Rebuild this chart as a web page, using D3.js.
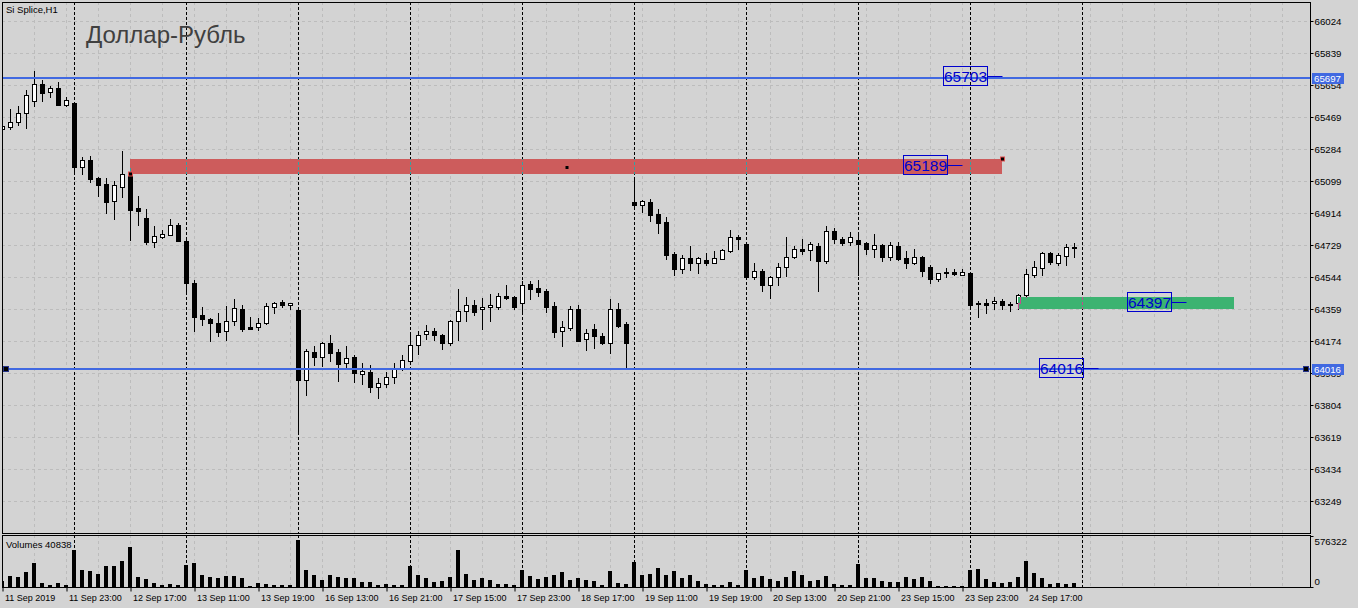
<!DOCTYPE html>
<html><head><meta charset="utf-8">
<script src="https://cdn.jsdelivr.net/npm/d3@7"></script>
<style>
html,body{margin:0;padding:0;background:#d3d3d3;}
svg{display:block;font-family:"Liberation Sans",Arial,sans-serif;}
</style>
</head><body>
<svg id="chart" width="1358" height="608"></svg>
<script>
// ---------- DATA ----------
const open  = [65400,65412,65439,65489,65562,65658,65611,65635,65539,65550,65181,65220,65116,65081,64981,65066,65143,64942,64885,64746,64777,64788,64846,64754,64508,64323,64300,64277,64234,64288,64357,64257,64257,64277,64373,64400,64381,64354,63949,64111,64084,64161,64111,64046,64080,63984,63995,63907,63926,63965,64011,64061,64150,64215,64230,64207,64161,64288,64349,64381,64358,64369,64373,64434,64427,64392,64504,64480,64461,64377,64230,64250,64357,64184,64242,64203,64165,64357,64273,64977,64962,64977,64908,64862,64677,64592,64654,64623,64642,64627,64650,64696,64773,64735,64546,64580,64500,64542,64603,64661,64707,64700,64723,64638,64808,64762,64746,64758,64739,64704,64727,64661,64723,64654,64627,64658,64600,64534,64573,64573,64558,64569,64388,64396,64392,64404,64388,64392,64438,64558,64596,64681,64627,64665,64715];
const high  = [65420,65512,65531,65624,65732,65682,65647,65670,65582,65555,65239,65243,65123,65116,65097,65273,65172,65012,64938,64839,64816,64881,64854,64760,64527,64369,64310,64334,64377,64419,64381,64311,64307,64392,64400,64411,64396,64360,64130,64146,64170,64211,64130,64146,64095,64046,64034,63961,63995,64049,64092,64226,64230,64265,64250,64215,64296,64473,64427,64411,64423,64446,64450,64496,64434,64519,64519,64527,64473,64400,64288,64377,64384,64242,64273,64219,64415,64392,64284,65110,64989,64993,64938,64889,64690,64669,64723,64660,64681,64696,64708,64816,64785,64742,64623,64592,64550,64623,64773,64723,64762,64746,64739,64839,64827,64777,64804,64804,64746,64792,64735,64746,64746,64696,64707,64665,64615,64570,64596,64592,64592,64573,64407,64419,64427,64415,64400,64446,64588,64635,64688,64688,64685,64735,64739];
const low   = [65395,65400,65423,65404,65531,65562,65585,65539,65531,65146,65139,65093,65012,64915,64881,65008,64758,64846,64735,64719,64769,64785,64750,64453,64234,64269,64176,64203,64180,64265,64234,64245,64238,64270,64338,64369,64361,63657,63864,64038,64030,64061,63945,64026,63938,63926,63880,63845,63907,63934,64005,64046,64099,64184,64180,64130,64150,64180,64292,64323,64245,64292,64358,64419,64361,64338,64419,64434,64342,64199,64146,64238,64176,64122,64134,64157,64103,64253,64011,64950,64919,64869,64796,64650,64554,64569,64584,64569,64615,64623,64646,64689,64707,64540,64534,64461,64423,64500,64550,64654,64677,64642,64465,64623,64739,64727,64727,64558,64677,64658,64635,64642,64642,64596,64619,64550,64508,64523,64546,64554,64554,64375,64311,64338,64358,64358,64346,64361,64430,64546,64558,64619,64615,64615,64661];
const close = [65416,65439,65489,65593,65658,65605,65634,65539,65566,65181,65220,65112,65077,64977,65074,65139,64931,64927,64746,64781,64792,64846,64754,64508,64315,64300,64277,64228,64288,64365,64245,64245,64277,64377,64392,64384,64392,63949,64115,64084,64161,64107,64042,64076,63991,64000,63907,63930,63965,64011,64065,64150,64207,64230,64211,64161,64288,64349,64384,64342,64369,64381,64434,64423,64373,64496,64476,64457,64373,64226,64254,64357,64176,64219,64203,64165,64357,64261,64165,64962,64981,64904,64858,64673,64588,64654,64623,64654,64627,64654,64700,64773,64765,64546,64577,64500,64542,64603,64661,64707,64696,64735,64638,64808,64762,64742,64777,64735,64704,64727,64661,64727,64650,64627,64658,64580,64534,64565,64565,64561,64573,64384,64392,64384,64404,64381,64381,64438,64561,64603,64681,64631,64669,64715,64710];
const volume = [67140,123090,111900,167850,268560,44760,22380,44760,22380,414030,190230,179040,145470,234990,234990,290940,447600,111900,89520,44760,22380,33570,22380,246180,268560,134280,111900,100710,123090,123090,100710,11190,44760,33570,22380,22380,22380,525930,190230,134280,78330,134280,111900,100710,100710,55950,55950,22380,33570,22380,22380,234990,134280,100710,55950,67140,111900,414030,145470,78330,100710,78330,33570,33570,22380,190230,123090,89520,111900,134280,167850,78330,100710,78330,67140,22380,179040,44760,33570,279750,134280,145470,212610,134280,179040,100710,134280,67140,33570,22380,22380,55950,22380,190230,100710,123090,89520,67140,111900,179040,134280,67140,78330,123090,33570,22380,22380,257370,100710,100710,67140,55950,55950,111900,89520,111900,67140,11190,11190,11190,11190,190230,201420,89520,55950,44760,55950,111900,290940,156660,100710,33570,44760,33570,40838];
const timeTickLabels = ["11 Sep 2019","11 Sep 23:00","12 Sep 17:00","13 Sep 11:00","13 Sep 19:00","16 Sep 13:00","16 Sep 21:00","17 Sep 15:00","17 Sep 23:00","18 Sep 17:00","19 Sep 11:00","19 Sep 19:00","20 Sep 13:00","20 Sep 21:00","23 Sep 15:00","23 Sep 23:00","24 Sep 17:00"];
const priceTicks = [66024,65839,65654,65469,65284,65099,64914,64729,64544,64359,64174,63989,63804,63619,63434,63249];
const volumeTicks = [576322,0];
const daySeparators = [9,23,37,51,65,79,93,107,121,135];
const levelLines = [65697,64016];
const priceLabelText = ["65703","65189","64397","64016"];
const priceLabelValue = [65703,65189,64397,64016];
const priceLabelEnd = [125,120,148,137];
const zoneTop = [65225,64428];
const zoneBottom = [65141,64361];
const zoneStart = [16,127];
const zoneEnd = [125,154];
const zoneColor = ["#CD5C5C","#3CB371"];
const zoneInverse = ["#32A3A3","#C34C8E"];
const chartTitle = "Доллар-Рубль";
const symbolText = "Si Splice,H1";
const volumeText = "Volumes 40838";

// ---------- LAYOUT ----------
const L = 2, R = 1310, T = 2, B = 533, VT = 535, VB = 587;
const svg = d3.select("#chart");
const bars = d3.range(open.length);
const x = d3.scaleLinear().domain([0, 134]).range([2.5, 2.5 + 8 * 134]);
const y = d3.scaleLinear().domain([63249, 66024]).range([501.3, 20.7]);
const yv = d3.scaleLinear().domain([0, 576322]).range([VB, VT + 0.5]);
const ry = v => Math.round(y(v));

svg.append("rect").attr("width",1358).attr("height",608).attr("fill","#d3d3d3");

const defs = svg.append("defs");
defs.append("clipPath").attr("id","mainClip").append("rect")
  .attr("x",L+1).attr("y",T+1).attr("width",R-L-1).attr("height",B-T-1);
defs.append("clipPath").attr("id","volClip").append("rect")
  .attr("x",L+1).attr("y",VT+1).attr("width",R-L-1).attr("height",VB-VT-1);

const main = svg.append("g").attr("clip-path","url(#mainClip)");
const vol = svg.append("g").attr("clip-path","url(#volClip)");

// grid
const gridCol = "#bcbcbc";
priceTicks.forEach(p => {
  main.append("line").attr("x1",L).attr("x2",R).attr("y1",ry(p)+0.5).attr("y2",ry(p)+0.5)
    .attr("stroke",gridCol).attr("stroke-dasharray","3,3");
});
const gridBars = d3.range(4, 164, 4);
gridBars.forEach(k => {
  [[main,T,B],[vol,VT,VB]].forEach(([g,a,b]) => {
    g.append("line").attr("x1",x(k)).attr("x2",x(k)).attr("y1",a).attr("y2",b)
      .attr("stroke",gridCol).attr("stroke-dasharray","3,3");
  });
});

// zones (background objects)
zoneTop.forEach((t,i) => {
  main.append("rect").attr("x",x(zoneStart[i])-0.5).attr("y",ry(t))
    .attr("width",x(zoneEnd[i])-x(zoneStart[i])).attr("height",ry(zoneBottom[i])-ry(t))
    .attr("fill",zoneColor[i]);
});

function drawSeparators(g, color, a, b){
  daySeparators.forEach(k => {
    g.append("line").attr("x1",x(k)).attr("x2",x(k)).attr("y1",a).attr("y2",b)
      .attr("stroke",color).attr("stroke-dasharray","3,2");
  });
}
function drawCandles(g, stroke, upFill, downFill){
  const c = g.selectAll(null).data(bars).enter().append("g");
  c.append("line")
    .attr("x1",k=>x(k)).attr("x2",k=>x(k))
    .attr("y1",k=>ry(high[k])).attr("y2",k=>ry(low[k])+1)
    .attr("stroke",stroke);
  c.each(function(k){
    const top = ry(Math.max(open[k],close[k])), bot = ry(Math.min(open[k],close[k]));
    const up = close[k] >= open[k];
    if (bot - top < 1) {
      d3.select(this).append("line").attr("x1",x(k)-2.5).attr("x2",x(k)+2.5)
        .attr("y1",top+0.5).attr("y2",top+0.5).attr("stroke",stroke);
    } else {
      d3.select(this).append("rect").attr("x",x(k)-2).attr("y",top+0.5)
        .attr("width",4).attr("height",bot-top)
        .attr("fill",up?upFill:downFill).attr("stroke",stroke);
    }
  });
}
drawSeparators(main,"#000",T,B);
drawSeparators(vol,"#000",VT,VB);
drawCandles(main,"#000","#fff","#000");

// inverted drawing inside zones
zoneTop.forEach((t,i) => {
  const id = "zone"+i;
  defs.append("clipPath").attr("id",id).append("rect")
    .attr("x",x(zoneStart[i])-0.5).attr("y",ry(t))
    .attr("width",x(zoneEnd[i])-x(zoneStart[i])).attr("height",ry(zoneBottom[i])-ry(t));
  const g = main.append("g").attr("clip-path","url(#"+id+")");
  g.append("rect").attr("x",0).attr("y",0).attr("width",1358).attr("height",608).attr("fill",zoneColor[i]);
  drawSeparators(g, zoneInverse[i], T, B);
  drawCandles(g, zoneInverse[i], zoneColor[i], zoneInverse[i]);
});

// level lines
levelLines.forEach(p => {
  main.append("line").attr("x1",L).attr("x2",R).attr("y1",ry(p)+1).attr("y2",ry(p)+1)
    .attr("stroke","#4169E1").attr("stroke-width",2);
});

// handles
const hy = ry(64016)+1;
[[3,hy-3],[1303,hy-3]].forEach(([hx,hy2]) => {
  svg.append("rect").attr("x",hx+0.5).attr("y",hy2+0.5).attr("width",5).attr("height",5)
    .attr("fill","#000").attr("stroke","#26348a");
});
[[x(zoneStart[0])-2, ry(zoneBottom[0])-2],[x(zoneEnd[0])-2, ry(zoneTop[0])-2]].forEach(([hx,hy2]) => {
  main.append("rect").attr("x",hx).attr("y",hy2).attr("width",4).attr("height",4)
    .attr("fill","#000").attr("stroke","#e05050");
});
main.append("rect").attr("x",x((zoneStart[0]+zoneEnd[0])/2)-1).attr("y",Math.round((ry(zoneTop[0])+ry(zoneBottom[0]))/2)-1)
  .attr("width",3).attr("height",3).attr("fill","#000");

// price label objects
priceLabelText.forEach((t,i) => {
  const cy = y(priceLabelValue[i]) - 0.5;
  const xe = x(priceLabelEnd[i]);
  const bw = 44, bh = 19;
  const bx = Math.round(xe - 16 - bw) + 0.5, by = Math.round(cy - bh/2) + 0.5;
  svg.append("line").attr("x1",bx+bw).attr("x2",xe).attr("y1",Math.round(cy)+0.5).attr("y2",Math.round(cy)+0.5)
    .attr("stroke","#0000CD");
  svg.append("rect").attr("x",bx).attr("y",by).attr("width",bw).attr("height",bh)
    .attr("fill","none").attr("stroke","#0000CD");
  svg.append("text").attr("x",bx+bw/2).attr("y",by+bh/2+5.5).attr("text-anchor","middle")
    .attr("font-size","15.5px").attr("fill","#0000CD").text(t);
});

// volumes
vol.selectAll(null).data(bars).enter().append("rect")
  .attr("x",k=>x(k)-2.5).attr("width",4)
  .attr("y",k=>Math.round(yv(volume[k])))
  .attr("height",k=>VB-Math.round(yv(volume[k])))
  .attr("fill","#000");

// panel borders
svg.append("rect").attr("x",L+0.5).attr("y",T+0.5).attr("width",R-L).attr("height",B-T)
  .attr("fill","none").attr("stroke","#000");
svg.append("rect").attr("x",L+0.5).attr("y",VT+0.5).attr("width",R-L).attr("height",VB-VT)
  .attr("fill","none").attr("stroke","#000");

// price axis
const pa = svg.append("g").attr("transform",`translate(${R+0.5},0.5)`)
  .call(d3.axisRight(y).tickValues(priceTicks).tickSize(3).tickPadding(2).tickFormat(d3.format("d")));
pa.select(".domain").remove();
pa.selectAll(".tick").attr("transform",d=>`translate(0,${ry(d)})`);
pa.selectAll(".tick line").attr("stroke","#000");
pa.selectAll(".tick text").attr("font-size","9.7px").attr("font-family","Liberation Sans, Arial, sans-serif")
  .attr("fill","#000").attr("dy","0.35em").attr("x",4);

// volume axis
const va = svg.append("g").attr("transform",`translate(${R+0.5},0)`)
  .call(d3.axisRight(yv).tickValues(volumeTicks).tickSize(3).tickFormat(d3.format("d")));
va.select(".domain").remove();
va.selectAll(".tick").attr("transform",d=> d===0 ? `translate(0,${VB+0.5})` : `translate(0,${VT+1.5})`);
va.selectAll(".tick line").attr("stroke","#000");
va.selectAll(".tick text").attr("font-size","9.7px").attr("font-family","Liberation Sans, Arial, sans-serif")
  .attr("fill","#000").attr("x",4).attr("dy",d=> d===0 ? "-2.3px" : "8.6px");

// level value boxes on axis
levelLines.forEach(p => {
  const cy = ry(p)+1;
  svg.append("rect").attr("x",1312).attr("y",cy-5).attr("width",32).attr("height",11).attr("fill","#4169E1");
  svg.append("text").attr("x",1314).attr("y",cy+4).attr("font-size","9.7px").attr("fill","#fff").text(d3.format("d")(p));
});

// time axis
const tickIdx = timeTickLabels.map((_,i)=>i*8);
const ta = svg.append("g").attr("transform",`translate(0,${VB+0.5})`)
  .call(d3.axisBottom(x).tickValues(tickIdx).tickSize(4).tickFormat((d,i)=>timeTickLabels[i]));
ta.select(".domain").remove();
ta.selectAll(".tick line").attr("stroke","#000");
ta.selectAll(".tick text").attr("font-size","9px").attr("font-family","Liberation Sans, Arial, sans-serif")
  .attr("fill","#000").attr("text-anchor","start").attr("x",2).attr("y",13).attr("dy",0);

// texts
svg.append("text").attr("x",6).attr("y",13).attr("font-size","9.5px").attr("fill","#000").text(symbolText);
svg.append("text").attr("x",86).attr("y",42.5).attr("font-size","24px").attr("fill","#404040").text(chartTitle);
svg.append("text").attr("x",6).attr("y",548).attr("font-size","9.5px").attr("fill","#000").text(volumeText);
</script>
</body></html>
